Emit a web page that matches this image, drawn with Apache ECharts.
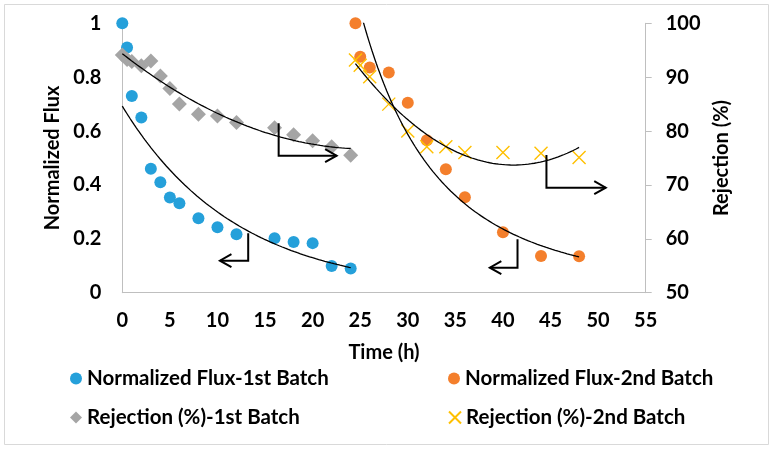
<!DOCTYPE html>
<html><head><meta charset="utf-8">
<script src="https://cdn.jsdelivr.net/npm/echarts@6/dist/echarts.min.js"></script>
<style>html,body{margin:0;padding:0;background:#fff}#c{width:772px;height:452px}</style>
</head><body><div id="c"></div>
<script>
// ---- data ----
const flux1X = [0, 0.5, 1, 2, 3, 4, 5, 6, 8, 10, 12, 16, 18, 20, 22, 24];
const flux1Y = [1.0, 0.91, 0.73, 0.65, 0.46, 0.41, 0.353, 0.332, 0.276, 0.243, 0.217, 0.202, 0.188, 0.184, 0.099, 0.09];
const rej1X = [0, 0.5, 1, 2, 3, 4, 5, 6, 8, 10, 12, 16, 18, 20, 22, 24];
const rej1Y = [94.1, 93.3, 92.9, 92.1, 93.0, 90.2, 87.9, 85.0, 83.1, 82.8, 81.6, 80.6, 79.3, 78.2, 77.1, 75.5];
const flux2X = [24.5, 25, 26, 28, 30, 32, 34, 36, 40, 44, 48];
const flux2Y = [1.0, 0.876, 0.836, 0.817, 0.705, 0.566, 0.458, 0.354, 0.224, 0.136, 0.135];
const rej2X = [24.5, 25, 26, 28, 30, 32, 34, 36, 40, 44, 48];
const rej2Y = [93.2, 92.2, 90.1, 85.0, 80.0, 77.1, 77.1, 76.0, 76.0, 75.9, 75.1];

const seriesNames = ['Normalized Flux-1st Batch', 'Normalized Flux-2nd Batch', 'Rejection (%)-1st Batch', 'Rejection (%)-2nd Batch'];
const xTicks = {min: 0, max: 55, interval: 5};
const yLeftTicks = {min: 0, max: 1, interval: 0.2};
const yRightTicks = {min: 50, max: 100, interval: 10};

// annotation arrows (data coords, left axis): corner, top of vertical stem, end x of horizontal
const arrowCorner = [[13.23, 0.119], [16.43, 0.5085], [41.53, 0.0928], [44.57, 0.39]];
const arrowTopY = [0.2205, 0.629, 0.198, 0.511];
const arrowEndX = [10.26, 22.52, 38.62, 50.8];

// ---- trendline fits (as Excel trendlines) ----
function linReg(xs, ys) {
  const n = xs.length; let sx = 0, sy = 0, sxx = 0, sxy = 0;
  for (let i = 0; i < n; i++) { sx += xs[i]; sy += ys[i]; sxx += xs[i] * xs[i]; sxy += xs[i] * ys[i]; }
  const b = (n * sxy - sx * sy) / (n * sxx - sx * sx);
  return {a: (sy - b * sx) / n, b};
}
function expFit(xs, ys) { const r = linReg(xs, ys.map(Math.log)); return x => Math.exp(r.a) * Math.exp(r.b * x); }
function powFit(xs, ys) { const r = linReg(xs.map(Math.log), ys.map(Math.log)); return x => Math.exp(r.a) * Math.pow(x, r.b); }
function poly2Fit(xs, ys) {
  const S = k => xs.reduce((s, x) => s + Math.pow(x, k), 0);
  const T = k => xs.reduce((s, x, i) => s + Math.pow(x, k) * ys[i], 0);
  const M = [[S(0), S(1), S(2), T(0)], [S(1), S(2), S(3), T(1)], [S(2), S(3), S(4), T(2)]];
  for (let i = 0; i < 3; i++) {
    for (let j = i + 1; j < 3; j++) { const f = M[j][i] / M[i][i]; for (let k = i; k < 4; k++) M[j][k] -= f * M[i][k]; }
  }
  const c = [0, 0, 0];
  for (let i = 2; i >= 0; i--) { let s = M[i][3]; for (let k = i + 1; k < 3; k++) s -= M[i][k] * c[k]; c[i] = s / M[i][i]; }
  return x => c[0] + c[1] * x + c[2] * x * x;
}
function sample(f, x0, x1) {
  const out = []; const N = 150;
  for (let i = 0; i <= N; i++) { const x = x0 + (x1 - x0) * i / N; out.push([x, f(x)]); }
  return out;
}
const zip = (a, b) => a.map((v, i) => [v, b[i]]);

const FONT = 'Lato';
const labelStyle = {fontFamily: FONT, fontWeight: 'bold', fontSize: 20, color: '#000'};
const legendStyle = {fontFamily: FONT, fontWeight: 'bold', fontSize: 20.5, color: '#000'};
const axisGray = '#bfbfbf';
const colors = {flux1: '#25a0da', flux2: '#f47f2c', rej1: '#a5a5a5', rej2: '#ffc000'};
const xPath = 'path://M0,0L10,10M10,0L0,10';

const trendStyle = {color: '#000', width: 1.3};
function trend(data, yIdx) {
  return {type: 'line', data, yAxisIndex: yIdx, symbol: 'none', showSymbol: false, silent: true,
    lineStyle: trendStyle, itemStyle: {color: '#000'}, clip: true, z: 3};
}

const chart = echarts.init(document.getElementById('c'), null, {renderer: 'canvas'});
const option = {
  backgroundColor: '#fff',
  animation: false,
  grid: {left: 122.3, right: 126.3, top: 23.3, bottom: 159.3, containLabel: false, outerBoundsMode: 'none'},
  xAxis: {
    type: 'value', min: xTicks.min, max: xTicks.max, interval: xTicks.interval,
    name: 'Time (h)', nameLocation: 'middle', nameGap: 50, nameTextStyle: labelStyle,
    axisLine: {show: true, lineStyle: {color: axisGray, width: 1}}, axisTick: {show: false},
    splitLine: {show: false}, axisLabel: Object.assign({margin: 18}, labelStyle)
  },
  yAxis: [
    {
      type: 'value', min: yLeftTicks.min, max: yLeftTicks.max, interval: yLeftTicks.interval, position: 'left',
      name: 'Normalized Flux', nameLocation: 'middle', nameGap: 59, nameRotate: 90, nameTextStyle: labelStyle,
      axisLine: {show: true, lineStyle: {color: axisGray, width: 1}}, axisTick: {show: false},
      splitLine: {show: false}, axisLabel: Object.assign({margin: 21}, labelStyle)
    },
    {
      type: 'value', min: yRightTicks.min, max: yRightTicks.max, interval: yRightTicks.interval, position: 'right',
      name: 'Rejection (%)', nameLocation: 'middle', nameGap: 61, nameRotate: 90, nameTextStyle: labelStyle,
      axisLine: {show: true, lineStyle: {color: axisGray, width: 1}},
      axisTick: {show: true, inside: false, length: 6, lineStyle: {color: axisGray}},
      splitLine: {show: false}, axisLabel: Object.assign({margin: 20}, labelStyle)
    }
  ],
  legend: [
    {data: [seriesNames[0]], left: 70, top: 368},
    {data: [seriesNames[2]], left: 70, top: 407},
    {data: [seriesNames[1]], left: 448, top: 368},
    {data: [seriesNames[3]], left: 448, top: 407}
  ].map(l => Object.assign({orient: 'horizontal', itemWidth: 12, itemHeight: 12, itemGap: 5,
    textStyle: legendStyle, padding: 0, selectedMode: false}, l)),
  series: [
    {name: seriesNames[0], type: 'scatter', data: zip(flux1X, flux1Y), yAxisIndex: 0, symbol: 'circle', symbolSize: 12,
      itemStyle: {color: colors.flux1, opacity: 1}, z: 2},
    {name: seriesNames[2], type: 'scatter', data: zip(rej1X, rej1Y), yAxisIndex: 1, symbol: 'diamond', symbolSize: 15,
      itemStyle: {color: colors.rej1, opacity: 1}, z: 2},
    {name: seriesNames[1], type: 'scatter', data: zip(flux2X, flux2Y), yAxisIndex: 0, symbol: 'circle', symbolSize: 12,
      itemStyle: {color: colors.flux2, opacity: 1}, z: 2},
    {name: seriesNames[3], type: 'scatter', data: zip(rej2X, rej2Y), yAxisIndex: 1, symbol: xPath, symbolSize: 13,
      itemStyle: {color: 'rgba(0,0,0,0)', borderColor: colors.rej2, borderWidth: 1.4, opacity: 1}, z: 2},
    trend(sample(expFit(flux1X, flux1Y), flux1X[0], flux1X[flux1X.length - 1]), 0),
    trend(sample(poly2Fit(rej1X, rej1Y), rej1X[0], rej1X[rej1X.length - 1]), 1),
    trend(sample(powFit(flux2X, flux2Y), flux2X[0], flux2X[flux2X.length - 1]), 0),
    trend(sample(poly2Fit(rej2X, rej2Y), rej2X[0], rej2X[rej2X.length - 1]), 1)
  ]
};
chart.setOption(option);

// annotation arrows + chart border
const g = [{type: 'rect', shape: {x: 4.5, y: 4.5, width: 764, height: 440}, style: {fill: 'none', stroke: '#d9d9d9', lineWidth: 1}, z: 0, silent: true}];
arrowCorner.forEach((c, i) => {
  const corner = chart.convertToPixel({xAxisIndex: 0, yAxisIndex: 0}, c);
  const top = chart.convertToPixel({xAxisIndex: 0, yAxisIndex: 0}, [c[0], arrowTopY[i]]);
  const end = chart.convertToPixel({xAxisIndex: 0, yAxisIndex: 0}, [arrowEndX[i], c[1]]);
  const dir = end[0] > corner[0] ? 1 : -1;
  g.push({type: 'polyline', shape: {points: [top, corner, end]}, style: {stroke: '#000', lineWidth: 2, fill: 'none'}, z: 10, silent: true});
  g.push({type: 'polyline', shape: {points: [[end[0] - dir * 11.5, end[1] - 6.5], end, [end[0] - dir * 11.5, end[1] + 6.5]]},
    style: {stroke: '#000', lineWidth: 2, fill: 'none'}, z: 10, silent: true});
});
chart.setOption({graphic: g});
</script></body></html>
